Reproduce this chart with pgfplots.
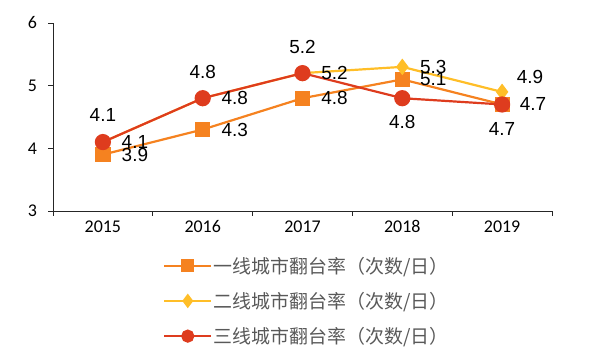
\documentclass[border=0pt]{standalone}
\usepackage{pgfplots}
\pgfplotsset{compat=1.18}
\usepackage{pgfplotstable}
\usepackage{fontspec}
\setmainfont{Liberation Sans}
\newfontfamily\cjk{Noto Sans CJK SC}
\newfontfamily\carl{Carlito}
\definecolor{cOne}{RGB}{245,130,32}
\definecolor{cTwo}{RGB}{255,190,40}
\definecolor{cThree}{RGB}{222,60,30}
\definecolor{legtext}{RGB}{89,89,89}
\pgfplotstableread{
x y dx dy
0 3.9 32 0
1 4.3 32 0
2 4.8 32 0
3 5.1 31 0
4 4.7 31 0
}\tone
\pgfplotstableread{
x y dx dy
0 4.1 32 0
1 4.8 32 0
2 5.2 32 0
3 5.3 31 0
4 4.9 28 15
}\ttwo
\pgfplotstableread{
x y dx dy
0 4.1 0 27
1 4.8 0 26
2 5.2 0 26
3 4.8 0 -24
4 4.7 0 -25
}\tthree
\begin{document}
\begin{tikzpicture}
\path[use as bounding box] (-53bp,-152bp) rectangle (543bp,211bp);
\begin{axis}[
  at={(0,0)}, anchor=south west,
  scale only axis, width=499bp, height=188bp,
  xmin=-0.5, xmax=4.5, ymin=3, ymax=6,
  axis x line*=bottom, axis y line*=left,
  axis line style={-, line width=1bp, black!85},
  tick style={line width=1bp, black!85},
  tick align=outside, major tick length=4.5bp,
  ytick={3,4,5,6},
  xtick={-0.5,0.5,1.5,2.5,3.5,4.5}, xticklabels={},
  extra x ticks={0,1,2,3,4},
  extra x tick labels={2015,2016,2017,2018,2019},
  extra x tick style={major tick length=0pt, xticklabel style={yshift=-6bp}},
  /pgf/number format/assume math mode=true,
  ticklabel style={font=\fontsize{18}{18}\selectfont\carl, text=black},
  yticklabel style={xshift=-8bp},
  nodes near coords={\pgfmathprintnumber[fixed,fixed zerofill,precision=1]{\pgfplotspointmeta}},
  point meta=y,
  visualization depends on={\thisrow{dx}\as\labdx},
  visualization depends on={\thisrow{dy}\as\labdy},
  every node near coord/.append style={font=\fontsize{19}{19}\selectfont, text=black, anchor=center, xshift=\labdx bp, yshift=\labdy bp, inner sep=0pt},
  legend image code/.code={\draw[mark repeat=2,mark phase=2] plot coordinates {(0bp,0bp)(23.5bp,0bp)(47bp,0bp)};},
  legend image post style={mark size=5.5bp},
  legend style={at={(axis description cs:0.2204,-0.235)}, anchor=north west, draw=none, fill=none,
    font=\fontsize{19}{19}\selectfont\cjk, text=legtext, row sep=14.5bp, inner sep=0pt,
    nodes={inner sep=1.5bp, anchor=west}},
  legend cell align=left,
  clip=false,
]
\addplot[cOne, line width=2.2bp, mark=square*, mark size=6.5bp, mark options={solid, fill=cOne, draw=cOne}] table[x=x,y=y] {\tone};
\addlegendentry{一线城市翻台率（次数/日）}
\addplot[cTwo, line width=2.2bp, mark=diamond*, mark size=6.5bp, mark options={solid, fill=cTwo, draw=cTwo}] table[x=x,y=y] {\ttwo};
\addlegendentry{二线城市翻台率（次数/日）}
\addplot[cThree, line width=2.2bp, mark=*, mark size=7bp, mark options={solid, fill=cThree, draw=cThree}] table[x=x,y=y] {\tthree};
\addlegendentry{三线城市翻台率（次数/日）}
\end{axis}
\end{tikzpicture}
\end{document}
